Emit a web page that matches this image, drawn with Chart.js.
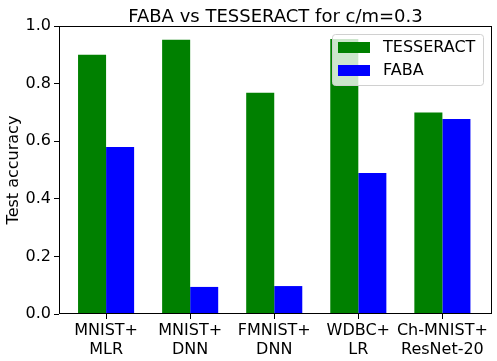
<!DOCTYPE html>
<html>
<head>
<meta charset="utf-8">
<script src="https://cdn.jsdelivr.net/npm/chart.js@4.4.1/dist/chart.umd.min.js"></script>
<style>
  html, body { margin: 0; padding: 0; background: #fff; }
  #wrap { width: 497px; height: 361px; }
</style>
</head>
<body>
<div id="wrap"><canvas id="chart" width="497" height="361"></canvas></div>
<script>
// data
const categories = [
  ['MNIST+', 'MLR'],
  ['MNIST+', 'DNN'],
  ['FMNIST+', 'DNN'],
  ['WDBC+', 'LR'],
  ['Ch-MNIST+', 'ResNet-20']
];
const tesseract = [0.90, 0.952, 0.768, 0.955, 0.70];
const faba = [0.58, 0.094, 0.097, 0.49, 0.677];
const yTicks = [0.0, 0.2, 0.4, 0.6, 0.8, 1.0];
const chartTitle = 'FABA vs TESSERACT for c/m=0.3';

const FONT = 'DejaVu Sans';

// bars placed on a numeric x axis so the margins match matplotlib
const toPoints = arr => arr.map((v, i) => ({ x: i, y: v }));

// frame around the plot area (matplotlib spines) + title centred over the axes
const framePlugin = {
  id: 'frame',
  afterDatasetsDraw(chart) {
    const { ctx, chartArea: a } = chart;
    ctx.save();
    ctx.strokeStyle = '#000';
    ctx.lineWidth = 1;
    ctx.strokeRect(Math.round(a.left) + 0.5, Math.round(a.top) + 0.5,
      Math.round(a.right - a.left) - 1, Math.round(a.bottom - a.top) - 1);
    ctx.fillStyle = '#000';
    ctx.font = '18px ' + FONT;
    ctx.textAlign = 'center';
    ctx.textBaseline = 'alphabetic';
    ctx.fillText(chartTitle, (a.left + a.right) / 2, a.top - 4);
    ctx.restore();
  }
};

// legend box in upper right of the axes
const legendPlugin = {
  id: 'boxLegend',
  afterDraw(chart) {
    const { ctx, chartArea: a } = chart;
    const x = a.right - 160, y = a.top + 8, w = 151, h = 51;
    ctx.save();
    ctx.fillStyle = 'rgba(255,255,255,0.8)';
    ctx.strokeStyle = '#d0d0d0';
    ctx.lineWidth = 1;
    ctx.beginPath();
    ctx.roundRect(x + 0.5, y + 0.5, w, h, 3);
    ctx.fill();
    ctx.stroke();
    ctx.font = '16px ' + FONT;
    ctx.textBaseline = 'middle';
    chart.data.datasets.forEach((ds, i) => {
      const ry = y + 8 + i * 23;
      ctx.fillStyle = ds.backgroundColor;
      ctx.fillRect(x + 6, ry, 32, 11);
      ctx.fillStyle = '#000';
      ctx.fillText(ds.label, x + 51, ry + 6);
    });
    ctx.restore();
  }
};

new Chart(document.getElementById('chart'), {
  type: 'bar',
  data: {
    datasets: [
      {
        label: 'TESSERACT',
        data: toPoints(tesseract),
        backgroundColor: '#008000',
        categoryPercentage: 0.667,
        barPercentage: 1.0
      },
      {
        label: 'FABA',
        data: toPoints(faba),
        backgroundColor: '#0000ff',
        categoryPercentage: 0.667,
        barPercentage: 1.0
      }
    ]
  },
  options: {
    responsive: false,
    animation: false,
    layout: { padding: { left: 0, right: 5, top: 26, bottom: 0 } },
    scales: {
      x: {
        type: 'linear',
        offset: false,
        min: -0.56,
        max: 4.59,
        afterBuildTicks(scale) {
          scale.ticks = categories.map((c, i) => ({ value: i }));
        },
        grid: {
          offset: false,
          drawOnChartArea: false,
          color: '#000',
          tickLength: 5
        },
        border: { display: false },
        ticks: {
          color: '#000',
          font: { family: FONT, size: 16 },
          padding: 2,
          maxRotation: 0,
          autoSkip: false,
          callback: v => categories[v]
        },
        afterFit(scale) { scale.height = 47; }
      },
      y: {
        min: 0,
        max: 1,
        afterBuildTicks(scale) {
          scale.ticks = yTicks.map(v => ({ value: v }));
        },
        grid: {
          drawOnChartArea: false,
          color: '#000',
          tickLength: 5
        },
        border: { display: false },
        ticks: {
          color: '#000',
          font: { family: FONT, size: 16 },
          padding: 3,
          callback: v => v.toFixed(1)
        },
        title: {
          display: true,
          text: 'Test accuracy',
          color: '#000',
          font: { family: FONT, size: 16 },
          padding: { top: 4, bottom: 0 }
        },
        afterFit(scale) { scale.width = 59; }
      }
    },
    plugins: {
      legend: { display: false },
      tooltip: { enabled: false },
      title: { display: false }
    }
  },
  plugins: [framePlugin, legendPlugin]
});
</script>
</body>
</html>
